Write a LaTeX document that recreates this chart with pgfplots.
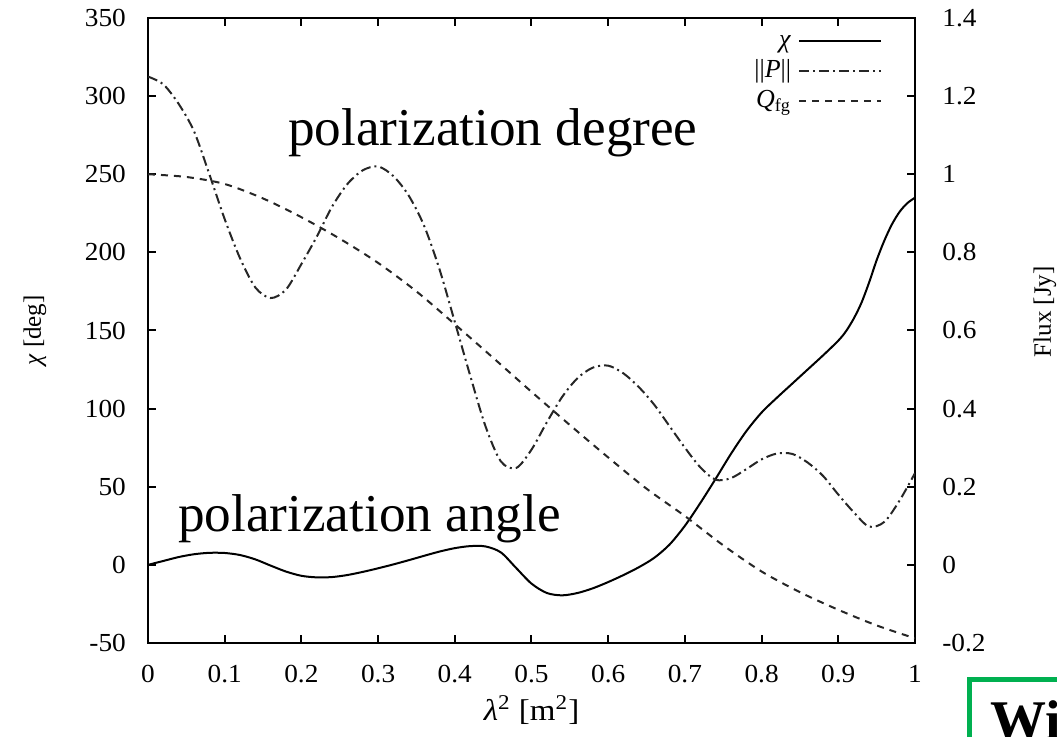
\documentclass[border=0pt]{standalone}
\usepackage{fontspec}
\setmainfont{Liberation Serif}
\usepackage{pgfplots}
\pgfplotsset{compat=1.18}
\usepackage{pgfplotstable}
\definecolor{boxgreen}{RGB}{0,176,80}

\pgfplotstableread{
x chi
0.00 0
0.02 2.5
0.04 5
0.06 6.8
0.08 7.7
0.10 7.6
0.12 6.3
0.14 3.5
0.16 -0.5
0.18 -4.3
0.20 -7
0.22 -8
0.24 -7.8
0.26 -6.5
0.28 -4.5
0.30 -2.2
0.32 0.3
0.34 3
0.36 5.8
0.38 8.5
0.40 10.7
0.42 12
0.44 11.8
0.46 8
0.48 -2
0.50 -12
0.52 -18
0.54 -19.5
0.56 -18
0.58 -15
0.60 -11
0.62 -6.5
0.64 -1.5
0.66 4.5
0.68 13
0.70 25
0.72 39.5
0.74 55
0.76 71
0.78 85.5
0.80 97.5
0.82 107
0.84 116
0.86 125
0.88 134
0.90 143.5
0.91 149.5
0.92 157.5
0.93 167.5
0.94 180.5
0.95 195
0.96 207.5
0.97 218
0.98 226
0.99 231.5
1.00 235
}\chidata

\pgfplotstableread{
x P
0.00 1.25
0.02 1.23
0.04 1.18
0.06 1.11
0.08 1.00
0.10 0.885
0.12 0.785
0.14 0.71
0.16 0.683
0.18 0.705
0.20 0.77
0.22 0.84
0.24 0.917
0.26 0.975
0.28 1.01
0.30 1.02
0.32 0.995
0.34 0.945
0.36 0.868
0.38 0.757
0.40 0.622
0.42 0.485
0.44 0.355
0.46 0.265
0.48 0.248
0.50 0.295
0.52 0.365
0.54 0.43
0.56 0.478
0.58 0.505
0.60 0.51
0.62 0.49
0.64 0.455
0.66 0.41
0.68 0.355
0.70 0.30
0.72 0.25
0.74 0.218
0.76 0.222
0.78 0.245
0.80 0.27
0.82 0.285
0.84 0.284
0.86 0.262
0.88 0.228
0.90 0.18
0.92 0.135
0.94 0.098
0.96 0.11
0.98 0.165
1.00 0.235
}\Pdata

\pgfplotstableread{
x Q
0.00 1.0
0.05 0.993
0.10 0.975
0.15 0.938
0.20 0.89
0.25 0.835
0.30 0.773
0.35 0.70
0.40 0.616
0.45 0.53
0.50 0.443
0.55 0.358
0.60 0.275
0.65 0.195
0.70 0.125
0.75 0.05
0.80 -0.017
0.85 -0.07
0.90 -0.115
0.95 -0.155
1.00 -0.188
}\Qdata

\begin{document}
\begin{tikzpicture}
\pgfplotsset{
  common/.style={
    scale only axis, width=383.5pt, height=312.5pt,
    at={(0,0)}, anchor=south west,
    xmin=0, xmax=1,
    tick align=inside,
    major tick length=4pt,
    axis line style={line width=1.2pt},
    every tick/.style={line width=1pt, black},
    /pgf/number format/assume math mode=true,
    ticklabel style={font=\fontsize{13}{15}\selectfont, xscale=1.05},
  }
}
\begin{axis}[common,
  ymin=-50, ymax=350,
  ytick={-50,0,50,100,150,200,250,300,350},
  xtick={0,0.1,0.2,0.3,0.4,0.5,0.6,0.7,0.8,0.9,1},
  xticklabels={0,0.1,0.2,0.3,0.4,0.5,0.6,0.7,0.8,0.9,1},
  ytick pos=left,
  xtick pos=both,
  xticklabel style={yshift=-7.5pt},
  yticklabel style={xshift=-7pt},
  xlabel={\textit{λ}\textsuperscript{2} [m\textsuperscript{2}]},
  xlabel style={at={(axis description cs:0.5,0)}, anchor=center, yshift=-33.5pt, font=\fontsize{15}{17}\selectfont, xscale=1.1},
  ylabel={\textit{χ} [deg]},
  ylabel style={at={(axis description cs:-0.1473,0.5)}, anchor=center, font=\fontsize{12.5}{14}\selectfont},
]
\addplot[black, line width=1pt, smooth] table[x=x, y=chi] {\chidata};
\node[anchor=base west, inner sep=0, font=\fontsize{26.6}{30}\selectfont] at (axis cs:0.1825,268.7) {polarization degree};
\node[anchor=base west, inner sep=0, font=\fontsize{26.6}{30}\selectfont] at (axis cs:0.0387,21.2) {polarization angle};
\end{axis}
\begin{axis}[common,
  ymin=-0.2, ymax=1.4,
  ytick={-0.2,0,0.2,0.4,0.6,0.8,1,1.2,1.4},
  yticklabels={-0.2,0,0.2,0.4,0.6,0.8,1,1.2,1.4},
  xtick=\empty,
  ytick pos=right,
  yticklabel pos=right,
  yticklabel style={xshift=9.5pt, anchor=west},
  ylabel={Flux [Jy]},
  ylabel style={at={(axis description cs:1.1695,0.53)}, anchor=center, font=\fontsize{12.5}{14}\selectfont},
  legend style={draw=none, fill=none, at={(axis description cs:0.9654,0.9935)}, anchor=north east,
    font=\fontsize{13}{15}\selectfont, row sep=0pt, column sep=2pt,
    nodes={text height=9pt, text depth=3pt, inner sep=1.5pt}},
  legend cell align=right,
  legend plot pos=right,
  legend image code/.code={\draw[#1] (0pt,0pt) -- (41pt,0pt);},
]
\addlegendimage{black, line width=1pt}
\addlegendentry{\textit{χ}}
\addplot[black!85, line width=1pt, smooth, dash pattern=on 5pt off 2pt on 1pt off 2pt] table[x=x, y=P] {\Pdata};
\addlegendentry{||\textit{P}||}
\addplot[black!85, line width=1pt, smooth, dash pattern=on 3.5pt off 3pt] table[x=x, y=Q] {\Qdata};
\addlegendentry{\textit{Q}\textsubscript{fg}}
\end{axis}
\draw[boxgreen, line width=2.5pt] (410.5pt,-18.5pt) rectangle (480pt,-80pt);
\node[anchor=north west, inner sep=0, font=\fontsize{28}{30}\selectfont\bfseries] at (421pt,-28.5pt) {Wi};
\pgfresetboundingbox
\path[use as bounding box] (-74pt,-47pt) rectangle (454.5pt,321.5pt);
\end{tikzpicture}
\end{document}
